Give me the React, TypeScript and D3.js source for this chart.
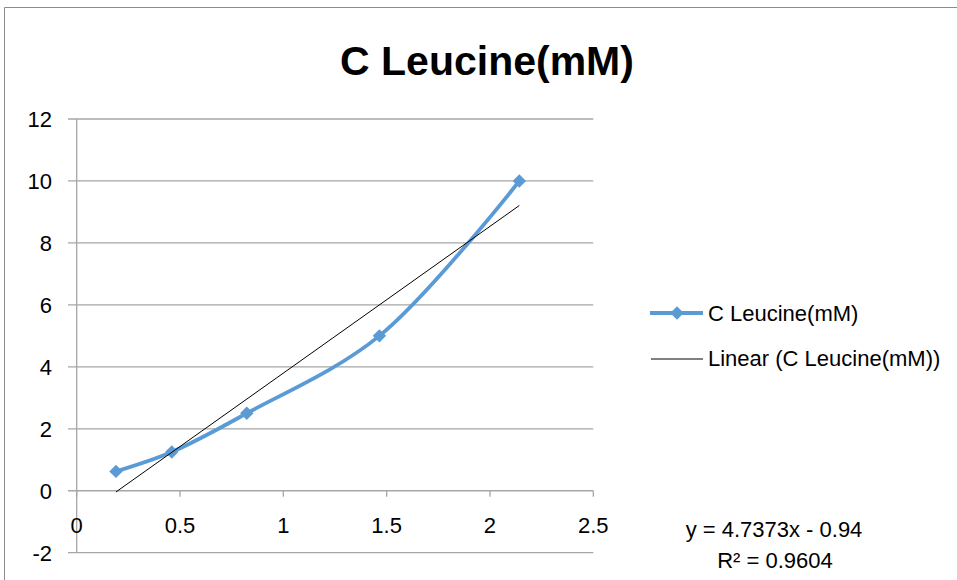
import React from "react";
import * as d3 from "d3";

// Concentration series (x) and measured values (y)
const xValues = [0.19, 0.46, 0.823, 1.465, 2.142];
const yValues = [0.625, 1.25, 2.5, 5, 10];
const xTicks = [0, 0.5, 1, 1.5, 2, 2.5];
const yTicks = [-2, 0, 2, 4, 6, 8, 10, 12];
const xTickLabels = ["0", "0.5", "1", "1.5", "2", "2.5"];
const yTickLabels = ["-2", "0", "2", "4", "6", "8", "10", "12"];

// Linear trendline fitted to the series
const trendSlope = 4.7373;
const trendIntercept = -0.94;
const trendR2 = 0.9604;

const seriesName = "C Leucine(mM)";
const FONT = "'Liberation Sans', Arial, sans-serif";
const BLUE = "#5B9BD5";
const GRID = "#a6a6a6";

export default function App() {
  const W = 957;
  const H = 580;
  const x = d3.scaleLinear().domain([0, 2.5]).range([76.7, 593.3]);
  const y = d3.scaleLinear().domain([-2, 12]).range([552.7, 119]);

  const pts: [number, number][] = xValues.map((v, i) => [v, yValues[i]]);
  const line = d3
    .line<[number, number]>()
    .x((d) => x(d[0]))
    .y((d) => y(d[1]))
    .curve(d3.curveCatmullRom.alpha(0.5));

  const xMin = d3.min(xValues) as number;
  const xMax = d3.max(xValues) as number;
  const trend = (v: number) => trendSlope * v + trendIntercept;

  const diamond = d3.symbol().type(d3.symbolSquare).size(90)() as string;

  return (
    <svg
      width={W}
      height={H}
      style={{ position: "absolute", left: 0, top: 0, background: "#fff" }}
      fontFamily={FONT}
    >
      <rect x={0} y={0} width={W} height={H} fill="#fff" />
      {/* chart frame */}
      <path d={`M4.5,${H} L4.5,7.5 L${W},7.5`} fill="none" stroke="#8c8c8c" strokeWidth={1} />

      <text x={487} y={75} textAnchor="middle" fontSize={41} fontWeight="bold" fill="#000">
        {seriesName}
      </text>

      {/* horizontal gridlines */}
      {yTicks.map((t) => (
        <line key={"g" + t} x1={68} x2={x(2.5)} y1={y(t)} y2={y(t)} stroke={GRID} strokeWidth={1.3} />
      ))}
      {/* vertical axis */}
      <line x1={x(0)} x2={x(0)} y1={y(12)} y2={y(-2)} stroke={GRID} strokeWidth={1.3} />
      {/* x tick marks on the zero line */}
      {xTicks.map((t) => (
        <line key={"xt" + t} x1={x(t)} x2={x(t)} y1={y(0)} y2={y(0) + 6} stroke={GRID} strokeWidth={1.3} />
      ))}

      {yTicks.map((t, i) => (
        <text key={"yl" + t} x={52} y={y(t) + 8} textAnchor="end" fontSize={22} fill="#000">
          {yTickLabels[i]}
        </text>
      ))}
      {xTicks.map((t, i) => (
        <text key={"xl" + t} x={x(t)} y={533} textAnchor="middle" fontSize={22} fill="#000">
          {xTickLabels[i]}
        </text>
      ))}

      {/* smoothed series line */}
      <path d={line(pts) as string} fill="none" stroke={BLUE} strokeWidth={3.8} strokeLinejoin="round" />
      {pts.map((d, i) => (
        <path key={"m" + i} d={diamond} transform={`translate(${x(d[0])},${y(d[1])}) rotate(45)`} fill={BLUE} />
      ))}

      {/* linear trendline */}
      <line x1={x(xMin)} y1={y(trend(xMin))} x2={x(xMax)} y2={y(trend(xMax))} stroke="#000" strokeWidth={1} />

      {/* legend */}
      <line x1={650} x2={703} y1={313} y2={313} stroke={BLUE} strokeWidth={3.8} />
      <path d={diamond} transform="translate(677,313) rotate(45)" fill={BLUE} />
      <text x={708} y={321} fontSize={22} fill="#000">{seriesName}</text>
      <line x1={651} x2={703} y1={359} y2={359} stroke="#000" strokeWidth={1} />
      <text x={708} y={366} fontSize={22} fill="#000">{`Linear (${seriesName})`}</text>

      {/* trendline equation */}
      <text x={774} y={537} textAnchor="middle" fontSize={22} fill="#000">
        {`y = ${trendSlope}x - ${Math.abs(trendIntercept)}`}
      </text>
      <text x={775} y={568} textAnchor="middle" fontSize={22} fill="#000">
        {`R² = ${trendR2}`}
      </text>
    </svg>
  );
}
